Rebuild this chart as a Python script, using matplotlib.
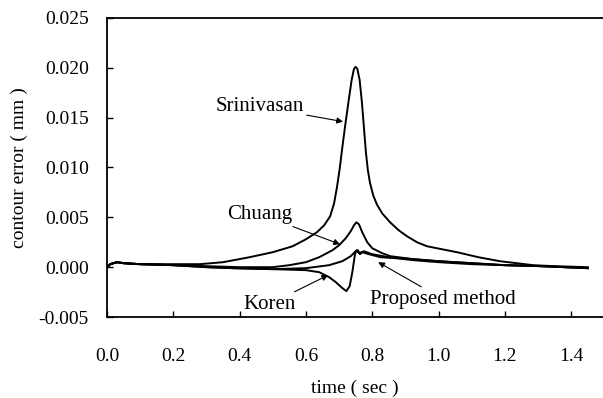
import matplotlib
matplotlib.use("Agg")
import matplotlib.pyplot as plt

plt.rcParams['font.family'] = ['Liberation Serif', 'DejaVu Serif']

# values (time in sec, contour error in mm)
t_srini = [0.00, 0.01, 0.03, 0.05, 0.10, 0.20, 0.28, 0.35, 0.43, 0.50, 0.56, 0.60,
           0.633, 0.655, 0.673, 0.685, 0.694, 0.702, 0.709, 0.718, 0.728, 0.738,
           0.745, 0.75, 0.755, 0.762, 0.769, 0.775, 0.781, 0.787, 0.793, 0.803,
           0.814, 0.83, 0.854, 0.88, 0.905, 0.935, 0.965, 1.01, 1.056, 1.12, 1.185,
           1.285, 1.35, 1.45]
e_srini = [0.0000, 0.0003, 0.0005, 0.0004, 0.0003, 0.0003, 0.0003, 0.0005, 0.0010,
           0.0015, 0.0021, 0.0028, 0.0035, 0.0042, 0.0051, 0.0064, 0.0081, 0.0099,
           0.0118, 0.0141, 0.0165, 0.0188, 0.0199, 0.0201, 0.0199, 0.0188, 0.0165,
           0.0140, 0.0115, 0.0097, 0.0085, 0.0072, 0.0063, 0.0054, 0.0045, 0.0037,
           0.0031, 0.0025, 0.0021, 0.0018, 0.0015, 0.0010, 0.0006, 0.0002, 0.0001,
           0.0000]

t_chuang = [0.00, 0.01, 0.03, 0.05, 0.10, 0.20, 0.30, 0.40, 0.50, 0.55, 0.60, 0.64,
            0.68, 0.70, 0.72, 0.735, 0.745, 0.752, 0.76, 0.77, 0.785, 0.80, 0.83,
            0.855, 0.925, 1.00, 1.10, 1.20, 1.31, 1.45]
e_chuang = [0.0000, 0.0003, 0.0005, 0.0004, 0.0003, 0.0002, 0.0001, 0.0000, 0.0000,
            0.0002, 0.0005, 0.0010, 0.0017, 0.0022, 0.0029, 0.0036, 0.0042, 0.0045,
            0.0043, 0.0035, 0.0025, 0.0019, 0.0014, 0.0011, 0.0008, 0.0006, 0.0004,
            0.0002, 0.0001, -0.0001]

t_koren = [0.00, 0.01, 0.03, 0.05, 0.10, 0.20, 0.30, 0.38, 0.50, 0.60, 0.64, 0.67,
           0.69, 0.71, 0.722, 0.732, 0.74, 0.748, 0.753, 0.76, 0.775, 0.80, 0.85,
           0.925, 1.00, 1.10, 1.20, 1.31, 1.45]
e_koren = [0.0000, 0.0003, 0.0005, 0.0004, 0.0003, 0.0002, 0.0000, -0.0001, -0.0002,
           -0.0003, -0.0005, -0.0010, -0.0015, -0.0021, -0.0024, -0.0019, -0.0005,
           0.0013, 0.0017, 0.0014, 0.0016, 0.0013, 0.0010, 0.0008, 0.0006, 0.0004,
           0.0002, 0.0001, -0.0001]

t_prop = [0.00, 0.01, 0.03, 0.05, 0.10, 0.20, 0.30, 0.38, 0.50, 0.60, 0.67, 0.71,
          0.735, 0.75, 0.757, 0.763, 0.77, 0.79, 0.825, 0.87, 0.925, 1.00, 1.10,
          1.20, 1.31, 1.45]
e_prop = [0.0000, 0.0003, 0.0005, 0.0004, 0.0003, 0.0002, 0.0000, -0.0001, -0.0002,
          -0.0001, 0.0002, 0.0006, 0.0011, 0.0016, 0.0017, 0.0013, 0.0015, 0.0013,
          0.0010, 0.0009, 0.0007, 0.0005, 0.0003, 0.0002, 0.0001, -0.0001]

x_ticks = [0.0, 0.2, 0.4, 0.6, 0.8, 1.0, 1.2, 1.4]
y_ticks = [-0.005, 0.000, 0.005, 0.010, 0.015, 0.020, 0.025]

fig = plt.figure(figsize=(6.03, 3.98), dpi=100)
ax = fig.add_axes([0.1774, 0.2035, 0.8226, 0.7513])

for t, e in [(t_srini, e_srini), (t_chuang, e_chuang), (t_koren, e_koren), (t_prop, e_prop)]:
    ax.plot(t, e, color='black', lw=1.4)

ax.set_xlim(0, 1.496)
ax.set_ylim(-0.005, 0.025)
ax.set_xticks(x_ticks)
ax.set_xticklabels(['%.1f' % v for v in x_ticks])
ax.set_yticks(y_ticks)
ax.set_yticklabels(['%.3f' % v for v in y_ticks])
ax.spines['right'].set_visible(False)
for s in ['left', 'top', 'bottom']:
    ax.spines[s].set_linewidth(1.3)
ax.tick_params(axis='x', direction='in', length=4, width=1, pad=22, labelsize=14)
ax.tick_params(axis='y', direction='in', length=4, width=1, pad=13, labelsize=14)

ax.set_xlabel('time ( sec )', fontsize=14, labelpad=11)
ax.set_ylabel('contour error ( mm )', fontsize=14, labelpad=8)

arrow = dict(arrowstyle='-|>', color='black', lw=0.8, mutation_scale=9, shrinkA=0, shrinkB=0)
ax.annotate('Srinivasan', xy=(0.712, 0.0146), xytext=(0.594, 0.0161),
            ha='right', va='center', fontsize=15, arrowprops=arrow)
ax.annotate('Chuang', xy=(0.703, 0.0023), xytext=(0.560, 0.0053),
            ha='right', va='center', fontsize=15, arrowprops=arrow)
ax.annotate('Koren', xy=(0.667, -0.0008), xytext=(0.570, -0.0037),
            ha='right', va='center', fontsize=15, arrowprops=arrow)
ax.annotate('Proposed method', xy=(0.818, 0.0005), xytext=(0.793, -0.0032),
            ha='left', va='center', fontsize=15, arrowprops=arrow)

fig.savefig('out.png', dpi=100)
